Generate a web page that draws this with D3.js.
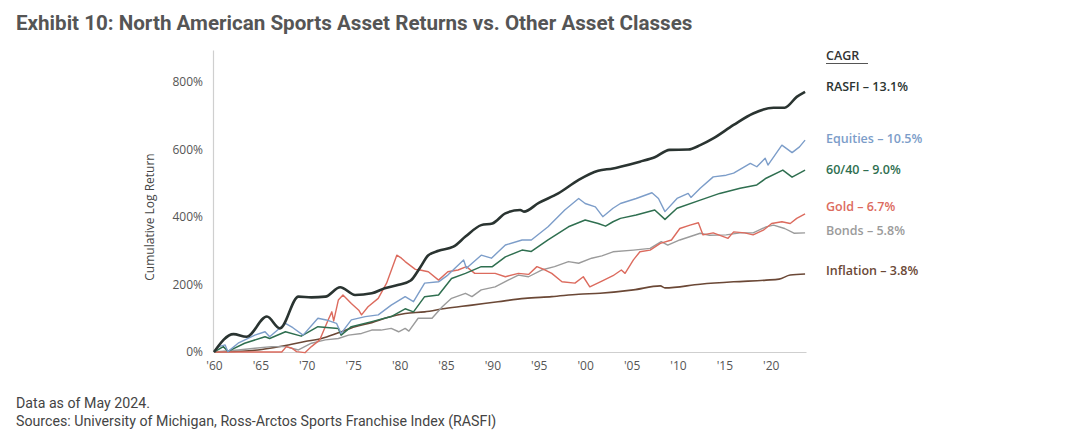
<!DOCTYPE html>
<html>
<head>
<meta charset="utf-8">
<script src="https://cdn.jsdelivr.net/npm/d3@7"></script>
<style>
  body { margin: 0; background: #fff; }
  svg { display: block; }
</style>
</head>
<body>
<svg id="chart" width="1080" height="439"></svg>
<script>
// values, [year, cumulative log return %]
var rasfi = [[1960,0],[1962.1,53],[1963.5,45],[1965.7,105],[1967.1,70],[1969.1,164],[1970.5,162],[1972,164],
  [1973.6,192],[1975.2,169],[1977,174],[1978.4,189],[1979.9,199],[1981.2,212],[1982.2,250],[1983.1,287],[1984.2,300],
  [1985.8,312],[1987.1,342],[1988.8,376],[1990,381],[1991.4,411],[1993,421],[1993.4,416],[1995,442],[1997.1,470],
  [1999.3,510],[2001.4,537],[2003,544],[2003.8,549],[2005.9,564],[2007.5,577],[2009.1,599],[2011.1,600],[2012.4,613],
  [2013.8,633],[2016,673],[2018.1,707],[2020.3,724],[2021.5,724],[2022.8,756],[2023.7,771]];

var equities = [[1960,0],[1960.5,16],[1961.2,21],[1961.5,1],[1962.6,26],[1964.4,50],[1965.5,60],[1966,45],[1967.7,85],
  [1968.5,72],[1969.6,50],[1971.2,100],[1972.1,95],[1973.2,85],[1973.7,55],[1974.8,95],[1976.3,105],[1977.7,110],
  [1979.1,139],[1980.6,164],[1981.5,149],[1982.7,204],[1984.2,208],[1985.2,228],[1986.9,273],[1987.2,248],[1988.8,287],
  [1989.9,278],[1991.4,317],[1993.2,332],[1994.2,332],[1996,371],[1997.8,421],[1999.3,455],[2000,440],[2001.1,430],
  [2001.9,401],[2003,426],[2003.8,440],[2005.5,455],[2007.2,472],[2007.9,455],[2008.6,416],[2009.9,455],[2011.1,470],
  [2011.4,458],[2012.4,485],[2013.8,519],[2015.2,524],[2016,530],[2017.8,559],[2018.5,549],[2019.4,574],[2019.7,554],
  [2021.2,613],[2022.3,591],[2023.1,608],[2023.7,628]];

var sixtyForty = [[1960,0],[1961,16],[1961.5,2],[1963.3,26],[1965.5,45],[1966,40],[1967.7,60],[1969.4,47],[1971.2,75],
  [1973.4,70],[1973.7,50],[1974.8,75],[1977,90],[1979.1,105],[1980.6,128],[1981.5,119],[1982.7,164],[1984.2,169],
  [1985.6,218],[1987.1,233],[1988.8,253],[1990,253],[1991.4,282],[1993.2,302],[1994.2,298],[1996,332],[1998.2,371],
  [2000,391],[2001.4,381],[2002.2,373],[2003,386],[2003.8,396],[2005.5,406],[2007.5,421],[2008.6,393],[2009.9,426],
  [2012.4,450],[2014.5,470],[2016.7,485],[2018.5,495],[2019.5,515],[2021.3,539],[2022.3,518],[2023.7,539]];

var gold = [[1960,0],[1967.3,0],[1967.8,16],[1968.4,11],[1968.9,1],[1969.8,-2],[1970.5,16],[1971.4,36],[1972.3,95],
  [1972.7,119],[1972.9,92],[1973.4,154],[1973.9,169],[1974.8,144],[1975.6,124],[1975.9,110],[1976.6,134],[1977.7,159],
  [1978.6,204],[1979.7,287],[1980.2,278],[1980.6,268],[1981.7,245],[1982.2,243],[1983.1,238],[1984.2,213],[1985.2,238],
  [1986.3,243],[1987.2,253],[1988.1,233],[1989.2,233],[1990.3,233],[1991.4,223],[1992.8,233],[1993.9,230],[1994.8,253],
  [1995.7,243],[1996.4,233],[1997.5,208],[1998.9,204],[1999.8,223],[2000.5,193],[2001.8,210],[2003,226],[2003.9,243],
  [2004.3,233],[2005.2,273],[2005.9,297],[2007,302],[2008.1,322],[2009.3,332],[2010.2,366],[2011.3,376],[2012.2,383],
  [2012.7,347],[2013.8,353],[2015.4,337],[2016,356],[2017.2,353],[2018.1,347],[2019.2,361],[2020.1,381],[2021.2,386],
  [2022.1,381],[2022.8,396],[2023.7,409]];

var bonds = [[1960,0],[1962.6,6],[1964.4,11],[1966.2,16],[1967.7,16],[1969.1,6],[1970.5,26],[1972,36],[1973.4,40],
  [1974.5,50],[1975.9,55],[1977,65],[1978,65],[1979.1,70],[1979.9,60],[1980.6,70],[1981,62],[1982,100],[1983.5,100],
  [1984.6,134],[1985.6,159],[1987.1,174],[1987.8,164],[1988.8,184],[1990.3,193],[1991.7,213],[1992.8,228],[1993.9,223],
  [1995.3,243],[1996.7,253],[1998.2,268],[1999.3,263],[2000.7,278],[2001.8,285],[2003,297],[2005.2,302],[2007,307],
  [2008.2,327],[2008.9,317],[2010.2,332],[2012.4,352],[2013.4,346],[2015.2,347],[2016.7,353],[2018.1,353],[2019.5,371],
  [2020.3,376],[2021.5,366],[2022.5,352],[2023.7,353]];

var inflation = [[1960,0],[1962.6,2],[1964.4,5],[1966.2,12],[1968,21],[1969.8,31],[1971.6,40],[1973.4,57],[1975.2,75],
  [1977,87],[1978.8,103],[1980.6,114],[1982.7,119],[1984.9,129],[1987.8,139],[1990.6,149],[1993.5,159],[1996.4,164],
  [1999.3,171],[2001.6,174],[2005.2,184],[2008.1,196],[2008.6,190],[2012.4,201],[2016,208],[2019.5,213],[2020.9,216],
  [2022.1,228],[2023.7,231]];

var seriesNames = ['Inflation', 'Bonds', 'Gold', '60/40', 'Equities', 'RASFI'];
var seriesData = [inflation, bonds, gold, sixtyForty, equities, rasfi];
var seriesColors = ['#6b4836', '#9b9b9b', '#dc6b5e', '#2f6f50', '#7c9dc9', '#2a3431'];
var seriesWidths = [1.6, 1.4, 1.4, 1.5, 1.4, 2.6];

var legendNames = ['RASFI', 'Equities', '60/40', 'Gold', 'Bonds', 'Inflation'];
var legendCagr = ['13.1%', '10.5%', '9.0%', '6.7%', '5.8%', '3.8%'];
var legendY = [88, 140, 171, 208, 232, 272];

var yTicks = [0, 200, 400, 600, 800];
var xTicks = d3.range(1960, 2021, 5);

var svg = d3.select('#chart');

var x = d3.scaleLinear().domain([1960, 2023.8]).range([214, 806]);
var y = d3.scaleLinear().domain([0, 895]).range([352, 50]);

// title
svg.append('text')
    .attr('x', 16).attr('y', 30)
    .attr('font-family', 'Roboto, sans-serif')
    .attr('font-weight', 700)
    .attr('font-size', 20.6)
    .attr('fill', '#555')
    .text('Exhibit 10: North American Sports Asset Returns vs. Other Asset Classes');

// axes
var yAxis = svg.append('g')
    .attr('transform', 'translate(213,0)')
    .call(d3.axisLeft(y).tickValues(yTicks).tickSize(0).tickPadding(10).tickFormat(d => d + '%'));
var xAxis = svg.append('g')
    .attr('transform', 'translate(0,352)')
    .call(d3.axisBottom(x).tickValues(xTicks).tickSize(0).tickPadding(9).tickFormat(d => "'" + String(d).slice(2)));

[yAxis, xAxis].forEach(function(a){
    a.select('.domain').attr('stroke', '#cfcfcf').attr('stroke-width', 1.2);
    a.selectAll('text')
        .attr('font-family', '"Open Sans", sans-serif')
        .attr('font-size', 12)
        .attr('fill', '#555');
});

svg.append('text')
    .attr('transform', 'translate(154,217) rotate(-90)')
    .attr('text-anchor', 'middle')
    .attr('font-family', '"Open Sans", sans-serif')
    .attr('font-size', 12)
    .attr('fill', '#444')
    .text('Cumulative Log Return');

// lines
var line = d3.line().x(d => x(d[0])).y(d => y(d[1]));
var smooth = d3.line().x(d => x(d[0])).y(d => y(d[1])).curve(d3.curveMonotoneX);

seriesData.forEach(function(s, i){
    svg.append('path')
        .datum(s)
        .attr('d', seriesNames[i] == 'RASFI' || seriesNames[i] == 'Inflation' ? smooth : line)
        .attr('fill', 'none')
        .attr('stroke', seriesColors[i])
        .attr('stroke-width', seriesWidths[i])
        .attr('stroke-linejoin', 'round');
});

// legend
var lg = svg.append('g').attr('font-family', '"Open Sans", sans-serif').attr('font-size', 12.5).attr('font-weight', 600);
lg.append('text')
    .attr('x', 826).attr('y', 57)
    .attr('dominant-baseline', 'middle')
    .attr('fill', '#333')
    .text('CAGR');
lg.append('line')
    .attr('x1', 826).attr('x2', 868).attr('y1', 63.5).attr('y2', 63.5)
    .attr('stroke', '#555').attr('stroke-width', 1);

legendNames.forEach(function(n, i){
    lg.append('text')
        .attr('x', 826).attr('y', legendY[i])
        .attr('dominant-baseline', 'middle')
        .attr('fill', seriesColors[seriesNames.indexOf(n)])
        .text(n + ' \u2013 ' + legendCagr[i]);
});

// footer
var ft = svg.append('g').attr('font-family', 'Roboto, sans-serif').attr('font-size', 14.2).attr('fill', '#444');
ft.append('text').attr('x', 16).attr('y', 408).text('Data as of May 2024.');
ft.append('text').attr('x', 16).attr('y', 426).text('Sources: University of Michigan, Ross-Arctos Sports Franchise Index (RASFI)');
</script>
</body>
</html>
